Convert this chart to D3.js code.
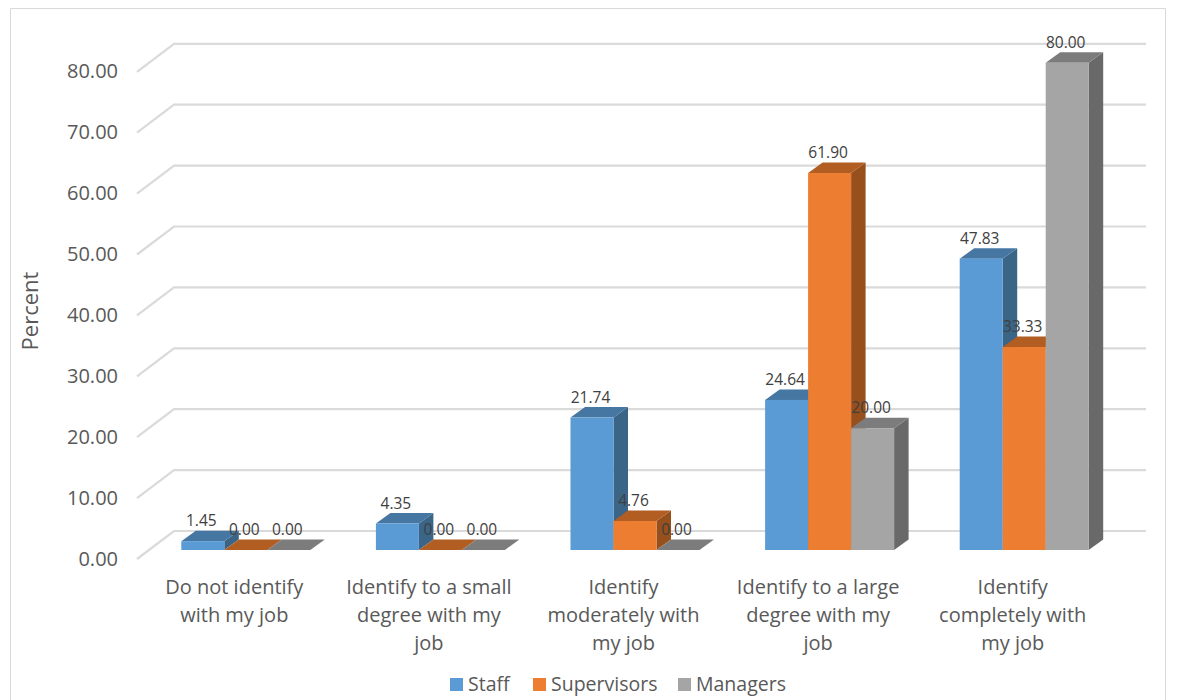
<!DOCTYPE html>
<html><head><meta charset="utf-8">
<script src="https://cdn.jsdelivr.net/npm/d3@7"></script>
<style>html,body{margin:0;background:#fff}svg{display:block}text{font-family:"Open Sans",sans-serif}</style>
</head><body><div id="c"></div>
<script>
const categories = [["Do not identify","with my job"],["Identify to a small","degree with my","job"],["Identify","moderately with","my job"],["Identify to a large","degree with my","job"],["Identify","completely with","my job"]];
const staff = [1.45,4.35,21.74,24.64,47.83];
const supervisors = [0,0,4.76,61.90,33.33];
const managers = [0,0,0,20,80];
const ticks = [0,10,20,30,40,50,60,70,80];
const seriesNames = ["Staff","Supervisors","Managers"];
const values = [staff,supervisors,managers];
const palette = [{f:"#5b9bd5",t:"#4677a3",s:"#3a6587"},{f:"#ed7d31",t:"#b25e23",s:"#974f1c"},{f:"#a5a5a5",t:"#7c7c7c",s:"#696969"}];

const W=1190,H=700;
const svg=d3.select("#c").append("svg").attr("width",W).attr("height",H);
svg.append("path").attr("d","M10.5,700V8.5H1165.5V700").attr("fill","none").attr("stroke","#d9d9d9");

const floorY=559, wallDX=37, wallDY=28, barDX=12, barDY=9, topDX=14.5, topDY=10.5;
const y=d3.scaleLinear().domain([0,80]).range([floorY,floorY-487.2]);
const x=d3.scaleBand().domain(d3.range(5)).range([137,1110]);
const xs=d3.scaleBand().domain(d3.range(3)).range([0,129]);

// gridlines
const g=svg.append("g");
ticks.forEach(t=>{
  g.append("path").attr("d",`M${x.range()[0]},${y(t)}L${x.range()[0]+wallDX},${y(t)-wallDY}H${x.range()[1]+wallDX-1}`)
   .attr("fill","none").attr("stroke","#dadada").attr("stroke-width",2.2);
  svg.append("text").attr("x",118).attr("y",y(t)+6.5).attr("text-anchor","end")
   .attr("font-size",20).attr("fill","#595959").text(t.toFixed(2));
});

// bars
const bars=svg.append("g"), labels=svg.append("g");
categories.forEach((c,i)=>{
  const gx=x(i)+x.bandwidth()/2+barDX-65;
  values.forEach((vals,k)=>{
    const v=vals[i],p=palette[k];
    const x0=gx+xs(k),x1=x0+xs.bandwidth(),y0=y(0)-barDY,y1=y(v)-barDY;
    bars.append("path").attr("fill",p.s).attr("d",`M${x1},${y0}L${x1+topDX},${y0-topDY}V${y1-topDY}L${x1},${y1}Z`);
    bars.append("path").attr("fill",p.t).attr("d",`M${x0},${y1}L${x0+topDX},${y1-topDY}H${x1+topDX}L${x1},${y1}Z`);
    bars.append("rect").attr("fill",p.f).attr("x",x0).attr("y",y1).attr("width",x1-x0).attr("height",y0-y1);
    labels.append("text").attr("x",(x0+x1)/2-1.5).attr("y",y1-topDY-4.5).attr("text-anchor","middle")
      .attr("font-size",15.5).attr("fill","#404040").text(v.toFixed(2));
  });
  const cx=x(i)+x.bandwidth()/2;
  const tx=svg.append("text").attr("text-anchor","middle").attr("font-size",20).attr("fill","#595959");
  c.forEach((line,j)=>tx.append("tspan").attr("x",cx).attr("y",593.5+j*28).text(line));
});

// axis title
svg.append("text").attr("transform","translate(38,311) rotate(-90)").attr("text-anchor","middle")
  .attr("font-size",22).attr("fill","#595959").text("Percent");

// legend
const legX=[450,533,678];
seriesNames.forEach((n,k)=>{
  svg.append("rect").attr("x",legX[k]).attr("y",678).attr("width",13).attr("height",13).attr("fill",palette[k].f);
  svg.append("text").attr("x",legX[k]+18).attr("y",691).attr("font-size",19.5).attr("fill","#595959").text(n);
});
</script></body></html>
